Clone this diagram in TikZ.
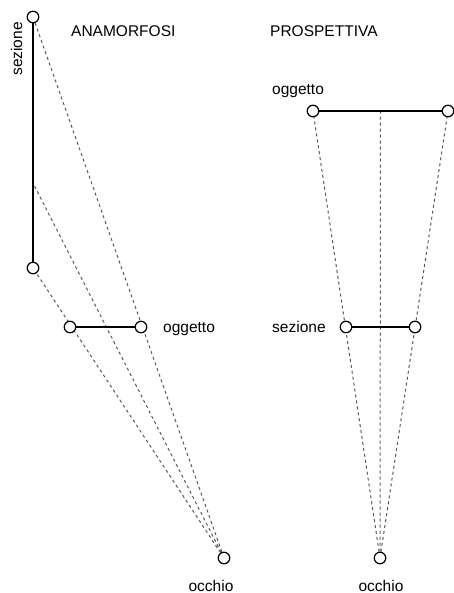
\documentclass[tikz,border=0pt]{standalone}
\usepackage{fontspec}
\setmainfont{Liberation Sans}
\usetikzlibrary{backgrounds}
\tikzset{
  pt/.style={circle, draw=black, fill=white, line width=1.2pt, minimum size=11.5pt, inner sep=0pt},
  ray/.style={draw=black!65, line width=1pt, dash pattern=on 3pt off 3pt},
  bar/.style={draw=black, line width=2.3pt},
  lbl/.style={inner sep=0pt, font=\fontsize{15.5}{18}\selectfont},
}
\begin{document}
\begin{tikzpicture}[x=1pt,y=-1pt]
\useasboundingbox (0,0) rectangle (453,593);

% anamorfosi
\node[pt] (sa) at (33,17) {};
\node[pt] (sb) at (33,268) {};
\node[pt] (oa) at (70,327) {};
\node[pt] (ob) at (141,327) {};
\node[pt] (ea) at (224,558) {};
\coordinate (sm) at (33,183);

% prospettiva
\node[pt] (pa) at (313,111) {};
\node[pt] (pb) at (448,111) {};
\node[pt] (qa) at (346,327) {};
\node[pt] (qb) at (415,327) {};
\node[pt] (eb) at (380,558) {};
\coordinate (pm) at (380.5,111);

\begin{scope}[on background layer]
  \draw[ray] (ea) -- (sa);
  \draw[ray] (ea) -- (sb);
  \draw[ray] (ea) -- (sm);
  \draw[bar] (sa) -- (sb);
  \draw[bar] (oa) -- (ob);

  \draw[ray] (eb) -- (pa);
  \draw[ray] (eb) -- (pb);
  \draw[ray] (eb) -- (pm);
  \draw[bar] (pa) -- (pb);
  \draw[bar] (qa) -- (qb);
\end{scope}

% labels
\node[lbl, anchor=base west] (t1) at (71,37) {ANAMORFOSI};
\node[lbl, anchor=base west] (t2) at (270,37) {PROSPETTIVA};
\node[lbl, anchor=base, rotate=90] (l1) at (22,49) {sezione};
\node[lbl, anchor=base west] (l2) at (163,332) {oggetto};
\node[lbl, anchor=base west] (l3) at (272,95) {oggetto};
\node[lbl, anchor=base west] (l4) at (272,332) {sezione};
\node[lbl, anchor=base] (l5) at (211,591) {occhio};
\node[lbl, anchor=base] (l6) at (381,591) {occhio};
\end{tikzpicture}
\end{document}
